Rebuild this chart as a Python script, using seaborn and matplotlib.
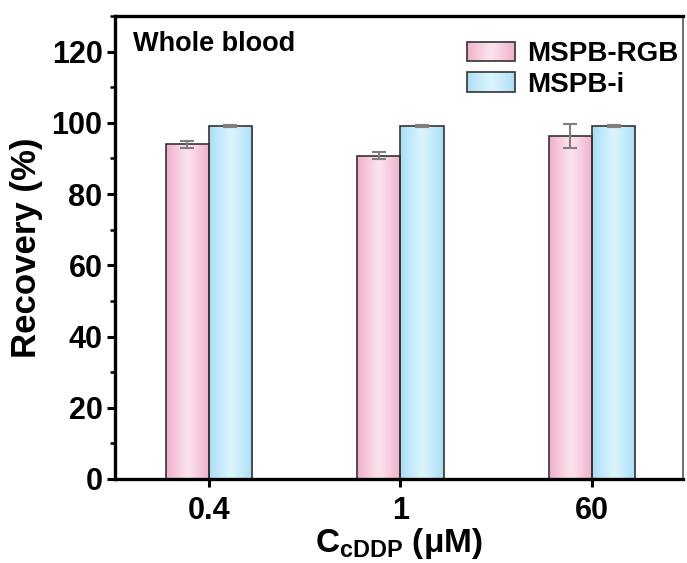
import numpy as np
import pandas as pd
import matplotlib
matplotlib.use("Agg")
import matplotlib.pyplot as plt
import seaborn as sns
from matplotlib.patches import Rectangle
from matplotlib.legend_handler import HandlerBase
from matplotlib.colors import LinearSegmentedColormap, to_rgb
from matplotlib.ticker import MultipleLocator

# ---- data ----
concentrations = ["0.4", "1", "60"]
series = ["MSPB-RGB", "MSPB-i"]
rgb_mean = [94.0, 90.8, 96.3]
rgb_err = [1.0, 0.9, 3.5]
i_mean = [99.2, 99.2, 99.0]
i_err = [0.3, 0.3, 0.3]
yticks = [0, 20, 40, 60, 80, 100, 120]

df = pd.DataFrame({
    "conc": concentrations * 2,
    "series": [series[0]] * 3 + [series[1]] * 3,
    "value": rgb_mean + i_mean,
    "err": rgb_err + i_err,
})

edge_cols = {"MSPB-RGB": "#EFAECB", "MSPB-i": "#A9DDF6"}
mid_cols = {"MSPB-RGB": "#FBE2EC", "MSPB-i": "#DAF4FD"}

sns.set_theme(style="ticks")
plt.rcParams["font.family"] = ["Liberation Sans", "DejaVu Sans"]
plt.rcParams["font.weight"] = "bold"
plt.rcParams["text.color"] = "black"
plt.rcParams["axes.labelcolor"] = "black"
plt.rcParams["xtick.color"] = "black"
plt.rcParams["ytick.color"] = "black"
plt.rcParams["mathtext.fontset"] = "custom"
plt.rcParams["mathtext.rm"] = "Liberation Sans:bold"
plt.rcParams["mathtext.bf"] = "Liberation Sans:bold"
plt.rcParams["mathtext.it"] = "Liberation Sans:bold"

fig = plt.figure(figsize=(6.87, 5.63), dpi=100)
ax = fig.add_axes([115 / 687, 1 - 479 / 563, 568 / 687, 463 / 563])

sns.barplot(data=df, x="conc", y="value", hue="series", order=concentrations,
            hue_order=series, palette=mid_cols, width=0.45, errorbar=None,
            edgecolor="#333333", linewidth=1.2, ax=ax, legend=False)

grad = np.abs(np.linspace(-1, 1, 128)) ** 1.2
grad = (1 - grad).reshape(1, -1)

patches = [p for p in ax.patches if isinstance(p, Rectangle)]
for k, p in enumerate(patches):
    name = series[k // len(concentrations)]
    x0, y0 = p.get_x(), p.get_y()
    w, h = p.get_width(), p.get_height()
    cm = LinearSegmentedColormap.from_list(name, [to_rgb(edge_cols[name]), to_rgb(mid_cols[name])])
    im = ax.imshow(grad, cmap=cm, vmin=0, vmax=1, aspect="auto",
                   extent=[x0, x0 + w, y0, y0 + h], zorder=p.get_zorder() - 0.1,
                   interpolation="bicubic")
    im.set_clip_path(p)
    p.set_facecolor("none")
    errs = rgb_err if k < len(concentrations) else i_err
    vals = rgb_mean if k < len(concentrations) else i_mean
    j = k % len(concentrations)
    ax.errorbar(x0 + w / 2, vals[j], yerr=errs[j], fmt="none", ecolor="#808080",
                elinewidth=1.5, capsize=5, capthick=1.5, zorder=5)

ax.set_xlim(-0.49, 2.475)
ax.set_ylim(0, 130)
ax.set_yticks(yticks)
ax.yaxis.set_minor_locator(MultipleLocator(10))
ax.tick_params(axis="both", which="major", direction="out", length=6, width=2.2,
               labelsize=22, color="black", labelcolor="black")
ax.tick_params(axis="x", which="major", pad=6)
ax.tick_params(axis="y", which="major", pad=3)
ax.tick_params(axis="y", which="minor", direction="out", length=3.5, width=1.8)
ax.tick_params(axis="x", which="minor", bottom=False)
for lab in ax.get_xticklabels() + ax.get_yticklabels():
    lab.set_fontweight("bold")
for s in ax.spines.values():
    s.set_visible(True)
    s.set_linewidth(2.4)
    s.set_color("black")
ax.spines["right"].set_linewidth(1.2)
ax.spines["right"].set_color("#555555")

ax.set_ylabel("Recovery (%)", fontsize=25, fontweight="bold", labelpad=6, color="black")
ax.set_xlabel(r"C$_{\mathrm{cDDP}}$ (μM)", fontsize=24, fontweight="bold", labelpad=0, color="black")

ax.text(0.032, 0.94, "Whole blood", transform=ax.transAxes, fontsize=19.5,
        fontweight="bold", ha="left", va="center", color="black")


class GradHandler(HandlerBase):
    def __init__(self, name):
        super().__init__()
        self.name = name

    def create_artists(self, legend, orig_handle, xdescent, ydescent, width, height,
                       fontsize, trans):
        arts = []
        n = 24
        e = np.array(to_rgb(edge_cols[self.name])); m = np.array(to_rgb(mid_cols[self.name]))
        for i in range(n):
            t = 1 - abs((i + 0.5) / n * 2 - 1) ** 1.2
            c = e + (m - e) * t
            arts.append(Rectangle((-xdescent + width * i / n, -ydescent), width / n + 0.3,
                                  height, facecolor=c, edgecolor="none", transform=trans))
        arts.append(Rectangle((-xdescent, -ydescent), width, height, facecolor="none",
                              edgecolor="#333333", linewidth=1.2, transform=trans))
        return arts


h1 = Rectangle((0, 0), 1, 1)
h2 = Rectangle((0, 0), 1, 1)
leg = ax.legend([h1, h2], series, handler_map={h1: GradHandler(series[0]), h2: GradHandler(series[1])},
                loc="upper left", bbox_to_anchor=(0.62, 0.945), frameon=False,
                prop={"weight": "bold", "size": 20}, handlelength=1.72, handleheight=0.7,
                handletextpad=0.45, labelspacing=0.15, borderpad=0, borderaxespad=0)
for t in leg.get_texts():
    t.set_color("black")

fig.savefig("out.png", dpi=100)
